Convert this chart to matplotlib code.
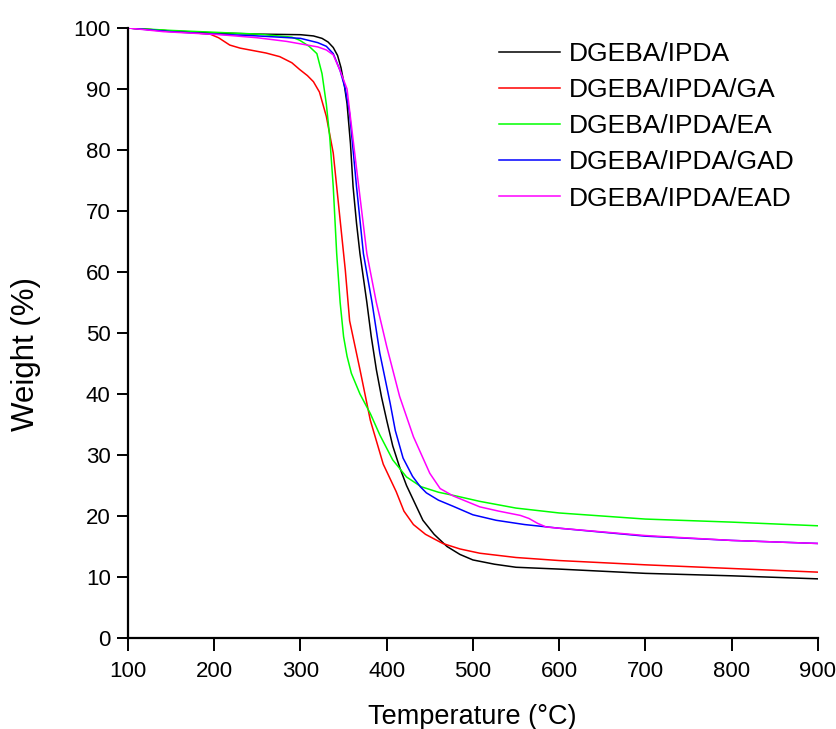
import matplotlib.pyplot as plt

plt.rcParams['font.family'] = ['Liberation Sans', 'DejaVu Sans']

# Data
t_ipda = [100, 150, 200, 250, 300, 315, 325, 332, 338, 343, 347, 351, 354, 358, 361, 365, 369, 373, 377, 382,
          388, 394, 400, 407, 415, 423, 431, 442, 455, 470, 485, 500, 525, 550, 600, 700, 800, 900]
w_ipda = [100, 99.5, 99.2, 99.0, 98.9, 98.7, 98.3, 97.7, 96.8, 95.5, 93.5, 90.5, 87.6, 81, 74, 68, 63, 59, 55,
          49.5, 44, 39.5, 35.7, 31.5, 28, 25, 22.6, 19.3, 17.0, 15.0, 13.7, 12.8, 12.1, 11.6, 11.3, 10.6, 10.2, 9.7]

t_ga = [100, 150, 195, 205, 218, 230, 245, 260, 276, 290, 299, 308, 315, 322, 330, 338, 346, 352, 357, 369,
        381, 396, 411, 420, 431, 445, 465, 485, 508, 550, 600, 700, 800, 900]
w_ga = [100, 99.5, 99.0, 98.4, 97.2, 96.7, 96.3, 95.9, 95.3, 94.3, 93.2, 92.2, 91.2, 89.5, 85.5, 79.5, 68.5,
        60.3, 52, 44, 35.7, 28.5, 24.0, 20.8, 18.6, 17.0, 15.5, 14.6, 13.9, 13.2, 12.7, 12.0, 11.4, 10.8]

t_ea = [100, 150, 200, 250, 290, 299, 310, 319, 325, 330, 334, 338, 342, 346, 350, 354, 359, 369, 381, 392,
        407, 423, 440, 460, 480, 508, 550, 600, 700, 800, 900]
w_ea = [100, 99.6, 99.3, 99.0, 98.5, 98.0, 97.0, 95.8, 92.5, 87.5, 82, 74, 63, 55, 49.4, 46.2, 43.4, 40, 36.8,
        33.3, 29.2, 26.4, 24.8, 23.9, 23.3, 22.4, 21.3, 20.5, 19.5, 19.0, 18.4]

t_gad = [100, 150, 200, 250, 300, 320, 330, 338, 346, 352, 357, 365, 373, 383, 392, 404, 410, 419, 430, 439,
         446, 460, 477, 500, 527, 560, 600, 700, 800, 900]
w_gad = [100, 99.4, 99.0, 98.7, 98.3, 97.6, 97.0, 95.8, 93, 90, 86, 74, 63, 55, 46.7, 38.5, 34, 29.5, 26.5,
         24.8, 23.8, 22.6, 21.6, 20.2, 19.3, 18.6, 18.0, 16.7, 16.0, 15.5]

t_ead = [100, 141, 207, 250, 284, 320, 330, 338, 346, 354, 365, 377, 388, 400, 415, 431, 450, 462, 477, 508,
         530, 555, 565, 575, 585, 600, 700, 800, 900]
w_ead = [100, 99.4, 98.9, 98.4, 97.8, 96.9, 96.4, 95.6, 93, 90, 77, 63, 55, 47.8, 39.6, 33, 27, 24.5, 23.3,
         21.5, 20.8, 20.1, 19.6, 18.8, 18.2, 18.0, 16.8, 16.0, 15.5]

fig = plt.figure(figsize=(8.37, 7.29), dpi=100)
ax = fig.add_axes([0.153, 0.1248, 0.824, 0.8368])

lw = 1.1
ax.plot(t_ipda, w_ipda, color='#000000', lw=lw, label='DGEBA/IPDA')
ax.plot(t_ga, w_ga, color='#ff0000', lw=lw, label='DGEBA/IPDA/GA')
ax.plot(t_ea, w_ea, color='#00ff00', lw=lw, label='DGEBA/IPDA/EA')
ax.plot(t_gad, w_gad, color='#0000ff', lw=lw, label='DGEBA/IPDA/GAD')
ax.plot(t_ead, w_ead, color='#ff00ff', lw=lw, label='DGEBA/IPDA/EAD')

ax.set_xlim(100, 900)
ax.set_ylim(0, 100)
ax.set_xticks(range(100, 901, 100))
ax.set_yticks(range(0, 101, 10))

ax.spines['top'].set_visible(False)
ax.spines['right'].set_visible(False)
ax.spines['left'].set_linewidth(1.6)
ax.spines['bottom'].set_linewidth(1.6)
ax.tick_params(direction='out', width=1.4, labelsize=16)
ax.tick_params(axis='x', length=9.5, pad=7)
ax.tick_params(axis='y', length=8, pad=4.5)

ax.set_xlabel('Temperature (°C)', fontsize=19.5)
ax.set_ylabel('Weight (%)', fontsize=22.5)
ax.xaxis.set_label_coords(0.4993, -0.108)
ax.yaxis.set_label_coords(-0.126, 0.466)

ax.legend(loc='upper left', bbox_to_anchor=(499 / 837, 1 - 42 / 729), bbox_transform=fig.transFigure,
          frameon=False, fontsize=19, handlelength=2.3, handletextpad=0.35, labelspacing=0.46,
          borderpad=0, borderaxespad=0)

fig.savefig('out.png', dpi=100)
